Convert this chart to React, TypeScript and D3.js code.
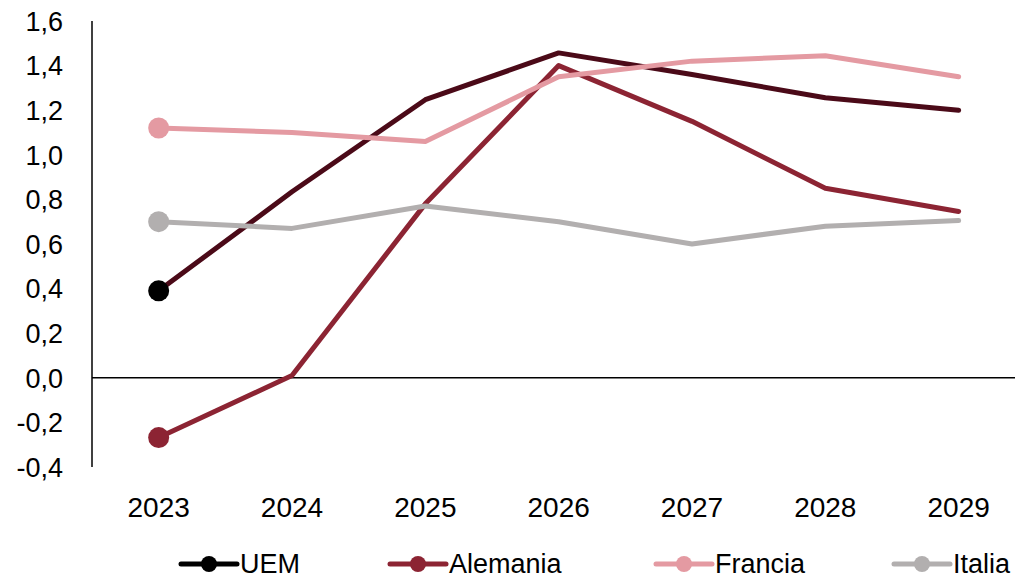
import React, { useRef, useEffect } from 'react';
import * as d3 from 'd3';

const years = ['2023', '2024', '2025', '2026', '2027', '2028', '2029'];
const uem = [0.39, 0.834, 1.247, 1.457, 1.36, 1.256, 1.2];
const alemania = [-0.268, 0.01, 0.78, 1.4, 1.15, 0.85, 0.746];
const francia = [1.12, 1.1, 1.06, 1.35, 1.42, 1.444, 1.35];
const italia = [0.7, 0.67, 0.77, 0.7, 0.6, 0.68, 0.705];
const yTicks = [-0.4, -0.2, 0, 0.2, 0.4, 0.6, 0.8, 1.0, 1.2, 1.4, 1.6];

const series = [
    { name: 'UEM', values: uem, color: '#4b0a18', marker: '#000000' },
    { name: 'Alemania', values: alemania, color: '#8c2433', marker: '#8c2433' },
    { name: 'Francia', values: francia, color: '#e49aa2', marker: '#e49aa2' },
    { name: 'Italia', values: italia, color: '#b2afaf', marker: '#b2afaf' },
];

const FONT = '"Liberation Sans", Arial, sans-serif';

export default function App() {
    const svgRef = useRef<SVGSVGElement | null>(null);

    useEffect(() => {
        const width = 1015;
        const height = 580;

        d3.select(svgRef.current).selectAll('*').remove();

        const svg = d3
            .select(svgRef.current)
            .attr('width', width)
            .attr('height', height);

        const xScale = d3
            .scaleBand()
            .domain(years)
            .range([92, 92 + 7 * 133.33]);

        const yScale = d3.scaleLinear().domain([-0.4, 1.6]).range([467, 21]);

        const xPos = (i: number) => xScale(years[i])! + xScale.bandwidth() / 2;

        // zero line
        svg.append('line')
            .attr('x1', xScale.range()[0])
            .attr('x2', xScale.range()[1])
            .attr('y1', yScale(0))
            .attr('y2', yScale(0))
            .attr('stroke', 'black')
            .attr('stroke-width', 1.5);

        // y axis
        svg.append('line')
            .attr('x1', 92)
            .attr('x2', 92)
            .attr('y1', yScale(1.6))
            .attr('y2', yScale(-0.4))
            .attr('stroke', 'black')
            .attr('stroke-width', 1.5);

        yTicks.forEach((t) => {
            svg.append('text')
                .attr('x', 63)
                .attr('y', yScale(t))
                .attr('dy', '0.36em')
                .attr('text-anchor', 'end')
                .text(t.toFixed(1).replace('.', ','))
                .attr('fill', 'black')
                .attr('font-family', FONT)
                .attr('font-size', 27);
        });

        years.forEach((y, i) => {
            svg.append('text')
                .attr('x', xPos(i))
                .attr('y', 507)
                .attr('dy', '0.36em')
                .attr('text-anchor', 'middle')
                .text(y)
                .attr('fill', 'black')
                .attr('font-family', FONT)
                .attr('font-size', 28);
        });

        const line = d3
            .line<number>()
            .x((_, i) => xPos(i))
            .y((d) => yScale(d));

        series.forEach((s) => {
            svg.append('path')
                .attr('d', line(s.values)!)
                .attr('fill', 'none')
                .attr('stroke', s.color)
                .attr('stroke-width', 5)
                .attr('stroke-linecap', 'round')
                .attr('stroke-linejoin', 'round');

            svg.append('circle')
                .attr('cx', xPos(0))
                .attr('cy', yScale(s.values[0]))
                .attr('r', 10.5)
                .attr('fill', s.marker);
        });

        // legend
        const legendX = [181, 390, 656, 894];
        series.forEach((s, i) => {
            const lx = legendX[i];
            const ly = 564;
            svg.append('line')
                .attr('x1', lx)
                .attr('x2', lx + 56)
                .attr('y1', ly)
                .attr('y2', ly)
                .attr('stroke', s.name === 'UEM' ? '#000000' : s.color)
                .attr('stroke-width', 5)
                .attr('stroke-linecap', 'round');
            svg.append('circle')
                .attr('cx', lx + 28)
                .attr('cy', ly)
                .attr('r', 8)
                .attr('fill', s.marker);
            svg.append('text')
                .attr('x', lx + 59)
                .attr('y', ly)
                .attr('dy', '0.34em')
                .attr('text-anchor', 'start')
                .text(s.name)
                .attr('fill', 'black')
                .attr('font-family', FONT)
                .attr('font-size', 27);
        });
    }, []);

    return <svg ref={svgRef} style={{ position: 'absolute', left: 0, top: 0 }}></svg>;
}
